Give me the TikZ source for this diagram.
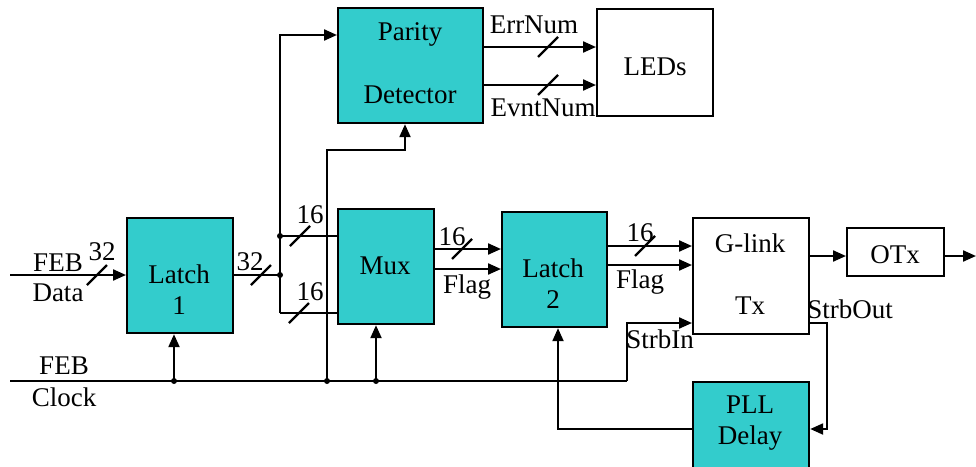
\documentclass[tikz,border=0pt]{standalone}
\usepackage{fontspec}
\setmainfont{Liberation Serif}
\usetikzlibrary{arrows.meta,calc}
\definecolor{boxteal}{RGB}{51,204,204}
\begin{document}
\begin{tikzpicture}[x=1pt,y=-1pt,line width=2.2pt,
  every node/.style={font=\fontsize{27}{31}\selectfont,inner sep=0pt},
  blk/.style={draw,fill=boxteal,anchor=north west},
  wbox/.style={draw,fill=white,anchor=north west},
  arr/.style={-{Triangle[length=13pt,width=11pt]}},
  jdot/.style={circle,fill,inner sep=0pt,minimum size=6pt}]
\useasboundingbox (0,0) rectangle (976,466);
% blocks
\node[blk,minimum width=106pt,minimum height=115pt] (latch1) at (126,217) {};
\node[blk,minimum width=145pt,minimum height=115pt] (parity) at (337,7) {};
\node[wbox,minimum width=116pt,minimum height=107pt] (leds) at (596,8) {};
\node[blk,minimum width=96pt,minimum height=115pt] (mux) at (337,208) {};
\node[blk,minimum width=105pt,minimum height=115pt] (latch2) at (501,211) {};
\node[wbox,minimum width=116pt,minimum height=116pt] (glink) at (692,217) {};
\node[wbox,minimum width=97pt,minimum height=48pt] (otx) at (846,227) {};
\node[blk,minimum width=116pt,minimum height=92pt] (pll) at (692,381) {};
% block texts
\node[align=center] (tl1) at (179,290) {Latch\\1};
\node (tp1) at (410,34) {Parity};
\node (tp2) at (410,95) {Detector};
\node (tleds) at (655,67) {LEDs};
\node (tmux) at (385,266) {Mux};
\node[align=center] (tl2) at (553,284) {Latch\\2};
\node (tg1) at (750,243) {G-link};
\node (tg2) at (750,306) {Tx};
\node (totx) at (895,255) {OTx};
\node[align=center] (tpll) at (750,423) {PLL\\Delay};
% coordinates
\coordinate (din) at (10,275);
\coordinate (j2) at (280,275);
\coordinate (ju) at (280,236);
\coordinate (jl) at (280,313);
\coordinate (ptop) at (280,35);
\coordinate (ck0) at (10,381);
\coordinate (ck1) at (174,381);
\coordinate (ck2) at (327,381);
\coordinate (ck3) at (376,381);
\coordinate (ck4) at (627,381);
\coordinate (pbend) at (405,150);
\coordinate (e1) at (482,47);
\coordinate (e2) at (482,85);
\coordinate (m1) at (433,249);
\coordinate (m2) at (433,269);
\coordinate (l1) at (606,246);
\coordinate (l2) at (606,265);
\coordinate (g1) at (808,256);
\coordinate (oout) at (976,256);
\coordinate (sin) at (627,323);
\coordinate (sout) at (808,323);
\coordinate (sbend) at (827,323);
\coordinate (pl) at (692,429);
\coordinate (pbl) at (558,429);
% data path
\draw[arr] (din) -- (din -| latch1.west);
\draw (latch1.east |- j2) -- (j2);
\draw[arr] (jl) -- (ptop) -- (ptop -| parity.west);
\draw (ju) -- (ju -| mux.west);
\draw (jl) -- (jl -| mux.west);
\node[jdot] (d1) at (j2) {};
\node[jdot] (d2) at (ju) {};
% parity outputs
\draw[arr] (e1) -- (e1 -| leds.west);
\draw[arr] (e2) -- (e2 -| leds.west);
% mux -> latch2
\draw[arr] (m1) -- (m1 -| latch2.west);
\draw[arr] (m2) -- (m2 -| latch2.west);
% latch2 -> glink
\draw[arr] (l1) -- (l1 -| glink.west);
\draw[arr] (l2) -- (l2 -| glink.west);
% glink -> otx -> out
\draw[arr] (g1) -- (g1 -| otx.west);
\draw[arr] (otx.east |- oout) -- (oout);
% clock
\draw (ck0) -- (ck4);
\draw[arr] (ck4) -- (sin) -- (sin -| glink.west);
\draw[arr] (ck1) -- (ck1 |- latch1.south);
\draw[arr] (ck3) -- (ck3 |- mux.south);
\draw[arr] (ck2) |- (pbend) -- (pbend |- parity.south);
\node[jdot] (d3) at (ck1) {};
\node[jdot] (d4) at (ck2) {};
\node[jdot] (d5) at (ck3) {};
% strobe out -> PLL -> latch2
\draw[arr] (sout) -- (sbend) |- (pll.east |- pl);
\draw[arr] (pl) -- (pbl) -- (pbl |- latch2.south);
% bus slashes
\foreach \p in {(97,275),(261,275),(300,236),(299,313),(548,47),(548,85),(462,249),(645,246)}
  \draw \p ++(-10,10) -- ++(20,-20);
% labels
\node (lfeb1) at (58,263) {FEB};
\node (ldata) at (58,293) {Data};
\node (l32a) at (102,252) {32};
\node (l32b) at (250,262) {32};
\node (l16a) at (310,215) {16};
\node (l16b) at (310,292) {16};
\node (lerr) at (534,25) {ErrNum};
\node (levnt) at (543,108) {EvntNum};
\node (l16c) at (452,237) {16};
\node (lflag1) at (467,287) {Flag};
\node (l16d) at (640,233) {16};
\node (lflag2) at (640,282) {Flag};
\node (lsin) at (660,339) {StrbIn};
\node (lsout) at (850,309) {StrbOut};
\node (lfeb2) at (64,366) {FEB};
\node (lclock) at (64,397) {Clock};
\end{tikzpicture}
\end{document}
